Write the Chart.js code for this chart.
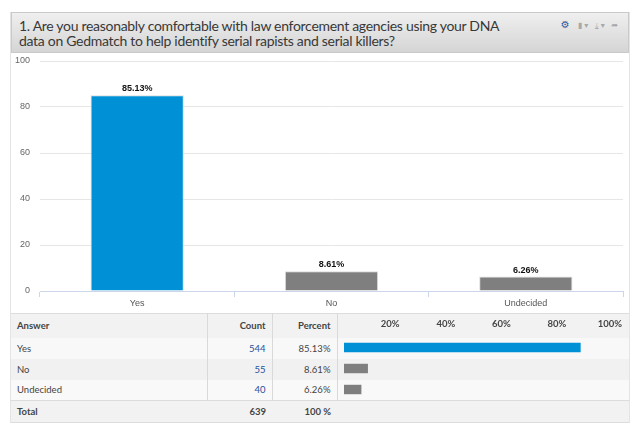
<!DOCTYPE html>
<html>
<head>
<meta charset="utf-8">
<script src="https://cdn.jsdelivr.net/npm/chart.js@4"></script>
<style>
body{margin:0;background:#fff;width:640px;height:434px;position:relative;overflow:hidden;font-family:Lato,"Open Sans",sans-serif}
.abs{position:absolute}
#frame{left:10px;top:12px;width:620px;height:411px;border:1px solid #e4e4e4;box-sizing:border-box}
#head{left:11px;top:12px;width:618px;height:41px;box-sizing:border-box;border:1px solid #c9c9c9;background:linear-gradient(#efefef,#d5d5d5)}
#title{position:absolute;left:7px;top:5px;font-size:14px;line-height:15px;letter-spacing:-0.3px;color:#383838}
#icons{position:absolute;right:8px;top:6px;font-family:"DejaVu Sans";font-size:8px;color:#a8a8a8;letter-spacing:2px}
#icons b{color:#1f5fa8;font-size:10px;margin-right:6px}
#main{left:11px;top:53px}
#tbl{left:11px;top:313px;width:618px;border-collapse:collapse;font-size:9.5px;color:#444;table-layout:fixed}
#tbl td{padding:0 6px;border-left:1px solid #d9d9d9;white-space:nowrap}
#tbl td:first-child{border-left:none;padding-left:6px}
#tbl tr.h{background:#f2f2f2;height:24px;font-weight:bold;border-top:1px solid #dcdcdc}
#tbl tr.r0{background:#f8f8f8;height:21px}
#tbl tr.r1{background:#f1f1f1;height:21px}
#tbl tr.r2{background:#f9f9f9;height:21px}
#tbl tr.t{background:#f2f2f2;height:22px;font-weight:bold;border-top:1px solid #dcdcdc;border-bottom:1px solid #dcdcdc}
#tbl tr.t td{border-left:none}
#tbl .n{text-align:right}
#tbl .c{color:#1f4f9a}
#mini{left:337px;top:314px}
</style>
</head>
<body>
<div id="frame" class="abs"></div>
<div id="head" class="abs">
  <div id="title">1. Are you reasonably comfortable with law enforcement agencies using your DNA<br>data on Gedmatch to help identify serial rapists and serial killers?</div>
  <div id="icons"><b>&#9881;</b>&#9646;&#9662; &#10515;&#9662; &#10150;</div>
</div>
<canvas id="main" class="abs" width="618" height="260"></canvas>
<table id="tbl" class="abs">
  <colgroup><col style="width:196px"><col style="width:65px"><col style="width:65px"><col style="width:292px"></colgroup>
  <tbody id="rows"></tbody>
</table>
<canvas id="mini" class="abs" width="292" height="86"></canvas>
<script>
// answers and results
const answers = ["Yes", "No", "Undecided"];
const counts = [544, 55, 40];
const percents = [85.13, 8.61, 6.26];
const barColors = ["#0090d5", "#7f7f7f", "#7f7f7f"];

// table rows
let rows = document.getElementById("rows");
let html = '<tr class="h"><td>Answer</td><td class="n">Count</td><td class="n">Percent</td><td></td></tr>';
for (let i = 0; i < answers.length; i++) {
  html += '<tr class="r' + i + '"><td>' + answers[i] + '</td><td class="n c">' + counts[i] +
          '</td><td class="n">' + percents[i].toFixed(2) + '%</td><td></td></tr>';
}
let total = counts.reduce((a, b) => a + b, 0);
html += '<tr class="t"><td>Total</td><td class="n">' + total + '</td><td class="n">100 %</td><td></td></tr>';
rows.innerHTML = html;

// percent labels over the big bars
const barLabels = {
  id: "barLabels",
  afterDatasetsDraw(chart) {
    let ctx = chart.ctx;
    ctx.save();
    ctx.font = 'bold 9px "Liberation Sans"';
    ctx.fillStyle = "#111";
    ctx.textAlign = "center";
    ctx.textBaseline = "bottom";
    chart.getDatasetMeta(0).data.forEach((bar, i) => {
      ctx.fillText(percents[i].toFixed(2) + "%", bar.x, bar.y - 2);
    });
    ctx.restore();
  }
};

const axisFont = { family: "Liberation Sans", size: 9 };

new Chart("main", {
  type: "bar",
  data: {
    labels: answers,
    datasets: [{
      data: percents,
      backgroundColor: barColors,
      borderColor: "#dcdcdc",
      borderWidth: 1,
      barPercentage: 0.48,
      categoryPercentage: 1
    }]
  },
  options: {
    responsive: false,
    animation: false,
    layout: { padding: { top: 8, right: 6, left: 0, bottom: 0 } },
    plugins: { legend: { display: false }, tooltip: { enabled: false } },
    scales: {
      x: {
        offset: true,
        grid: { offset: true, drawOnChartArea: false, tickLength: 6, color: "#ccd6eb" },
        border: { color: "#ccd6eb" },
        ticks: { padding: 1, color: "#555", font: axisFont },
        afterFit: s => { s.height = 22; }
      },
      y: {
        min: 0,
        max: 100,
        // invisible tick marks keep the labels 10px off the plot
        grid: { color: "#e6e6e6", tickLength: 10, tickColor: "rgba(0,0,0,0)" },
        border: { display: false },
        ticks: { stepSize: 20, padding: 0, color: "#666", font: axisFont },
        afterFit: s => { s.width = 29; }
      }
    }
  },
  plugins: [barLabels]
});

new Chart("mini", {
  type: "bar",
  data: {
    labels: answers,
    datasets: [{
      data: percents,
      backgroundColor: barColors,
      barPercentage: 0.45,
      categoryPercentage: 1
    }]
  },
  options: {
    indexAxis: "y",
    responsive: false,
    animation: false,
    layout: { padding: { left: 5, right: 6, top: 0, bottom: 0 } },
    plugins: { legend: { display: false }, tooltip: { enabled: false } },
    scales: {
      x: {
        position: "top",
        min: 0,
        max: 100,
        grid: { display: false, drawTicks: false },
        border: { display: false },
        ticks: {
          stepSize: 20,
          align: "end",
          padding: 7,
          color: "#444",
          font: { family: "Lato", size: 9.5, weight: "bold" },
          callback: v => v ? v + "%" : ""
        },
        afterFit: s => { s.height = 23; }
      },
      y: { display: false }
    }
  }
});
</script>
</body>
</html>
